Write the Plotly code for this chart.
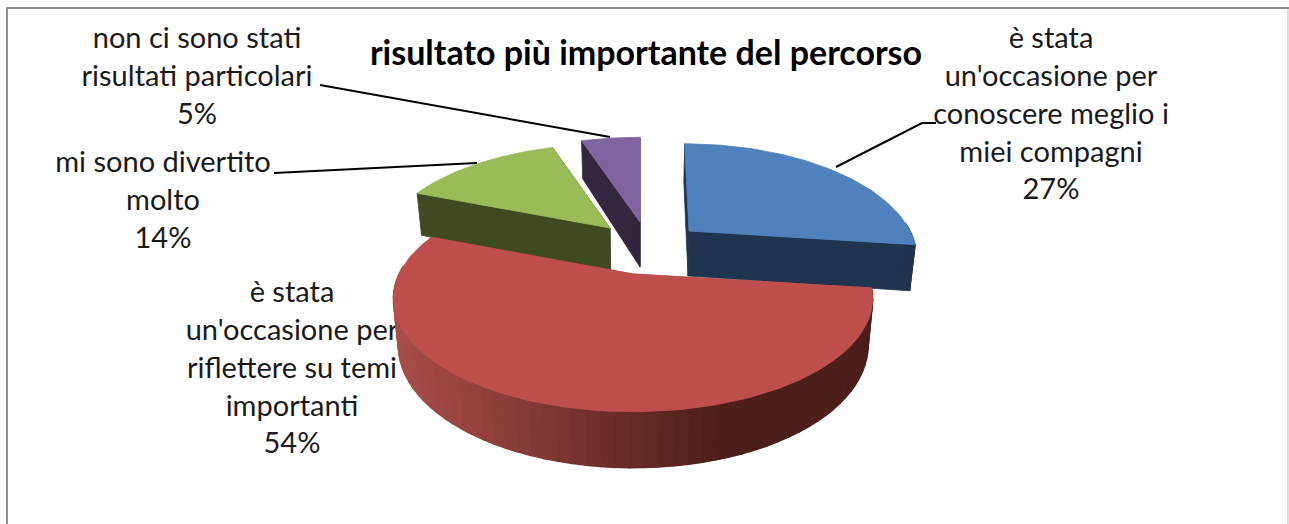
import math
import plotly.graph_objects as go

# Chart data
categories = [
    "è stata un'occasione per conoscere meglio i miei compagni",
    "è stata un'occasione per riflettere su temi importanti",
    "mi sono divertito molto",
    "non ci sono stati risultati particolari",
]
values = [27, 54, 14, 5]
label_lines = [
    ["è stata", "un'occasione per", "conoscere meglio i", "miei compagni"],
    ["è stata", "un'occasione per", "riflettere su temi", "importanti"],
    ["mi sono divertito", "molto"],
    ["non ci sono stati", "risultati particolari"],
]
chart_title = "risultato più importante del percorso"

# Styling per slice
top_colors = ["#4F81BD", "#BE4F4C", "#9BBB59", "#8064A2"]
wall_colors = ["#1F344F", None, "#3F4A20", "#32273F"]

# Slice placement: apex x, apex y, radius x, radius y, lean of the far edge
slice_geometry = [
    (689, 231, 221, 106, 24),
    (633, 274, 234, 108, 0),
    (610, 228, 224, 102, 0),
    (640, 222, 228, 103, 0),
]
label_centers = [(1051, 41), (292, 295), (163, 165), (197, 41)]
LINE_STEP = 37.8
leaders = [
    ([836, 922, 936], [167, 123, 123]),
    ([274, 477], [173, 163]),
    ([320, 610], [85, 137]),
]

PERSPECTIVE = 0.216
DEPTH = 45
VANISH_X = 640
SHRINK = 0.98
FONT = "Lato"
TEXT_SIZE = 29


def rim(geom, angle):
    """Project a point of the tilted disc; the angle runs clockwise from the back."""
    cx, cy, a, b, lean = geom
    u, v = math.sin(angle), math.cos(angle)
    s = 1 / (1 + PERSPECTIVE * v)
    return cx + a * u * s + lean * (s - 1), cy - b * v * s, s


def lower(x, y, s):
    return VANISH_X + (x - VANISH_X) * SHRINK, y + DEPTH * s ** 0.9


def red_shade(x):
    t = min(max((x - 394) / (720 - 394), 0), 1)
    return "rgb(%d,%d,%d)" % (170 - 92 * t, 78 - 48 * t, 74 - 47 * t)


def polygon(xs, ys, color, width=0.8):
    return go.Scatter(
        x=xs + xs[:1], y=ys + ys[:1], mode="lines", fill="toself", fillcolor=color,
        line=dict(color=color, width=width), hoverinfo="skip", showlegend=False,
    )


def slice_traces(i, start, end):
    geom = slice_geometry[i]
    steps = max(12, int((end - start) * 40))
    angles = [start + (end - start) * k / steps for k in range(steps + 1)]
    pts = [rim(geom, t) for t in angles]
    apex = (geom[0], geom[1], 1.0)
    traces = []

    # Side walls: the two radial cuts
    for edge in (pts[0], pts[-1]):
        q = [apex[:2], edge[:2], lower(*edge), lower(*apex)]
        color = wall_colors[i] or red_shade(450)
        traces.append(polygon([p[0] for p in q], [p[1] for p in q], color))

    # Outer rim in narrow bands, only along the part that faces the viewer
    near = [p for t, p in zip(angles, pts) if math.cos(t) < 0.1]
    near = near[::2] + near[-1:]
    for p0, p1 in zip(near, near[1:]):
        b0, b1 = lower(*p0), lower(*p1)
        color = wall_colors[i] or red_shade((p0[0] + p1[0]) / 2)
        traces.append(polygon([p0[0], p1[0], b1[0], b0[0]], [p0[1], p1[1], b1[1], b0[1]], color, 1.4))

    # Top face
    traces.append(polygon([apex[0]] + [p[0] for p in pts], [apex[1]] + [p[1] for p in pts], top_colors[i]))
    return traces


total = sum(values)
spans = []
acc = 0
for v in values:
    spans.append((2 * math.pi * acc / total, 2 * math.pi * (acc + v) / total))
    acc += v

fig = go.Figure()

# Data labels go underneath the pie, so the red slice can overlap them
text_x, text_y, text_s = [], [], []
for lines, value, (lx, ly) in zip(label_lines, values, label_centers):
    for n, line in enumerate(lines + [f"{value}%"]):
        text_x.append(lx)
        text_y.append(ly + n * LINE_STEP)
        text_s.append(line)
fig.add_trace(go.Scatter(
    x=text_x, y=text_y, text=text_s, mode="text", textposition="middle center",
    textfont=dict(family=FONT, size=TEXT_SIZE, color="#1a1a1a"),
    hoverinfo="skip", showlegend=False, cliponaxis=False,
))

for lx, ly in leaders:
    fig.add_trace(go.Scatter(x=lx, y=ly, mode="lines", line=dict(color="#000000", width=2),
                             hoverinfo="skip", showlegend=False))

# Back slices first, the large front slice last
for i in (3, 2, 0, 1):
    fig.add_traces(slice_traces(i, *spans[i]))

fig.update_layout(
    width=1289, height=524, autosize=False,
    margin=dict(l=0, r=0, t=0, b=0),
    paper_bgcolor="#ffffff", plot_bgcolor="#ffffff",
    showlegend=False,
    title=dict(
        text=f"<b>{chart_title}</b>", x=646 / 1289, y=1 - 53 / 524,
        xanchor="center", yanchor="middle",
        font=dict(family=FONT, size=34, color="#000000"),
    ),
    xaxis=dict(range=[0, 1289], visible=False, fixedrange=True),
    yaxis=dict(range=[524, 0], visible=False, fixedrange=True),
    shapes=[
        dict(type="line", x0=7, x1=7, y0=8, y1=524, line=dict(color="#8E8E8E", width=2)),
        dict(type="line", x0=6, x1=1289, y0=8, y1=8, line=dict(color="#8C8C8C", width=2)),
        dict(type="line", x0=1288, x1=1288, y0=9, y1=524, line=dict(color="#BFBFBF", width=1)),
    ],
)

fig.write_html("out.html", config=dict(displayModeBar=False))
